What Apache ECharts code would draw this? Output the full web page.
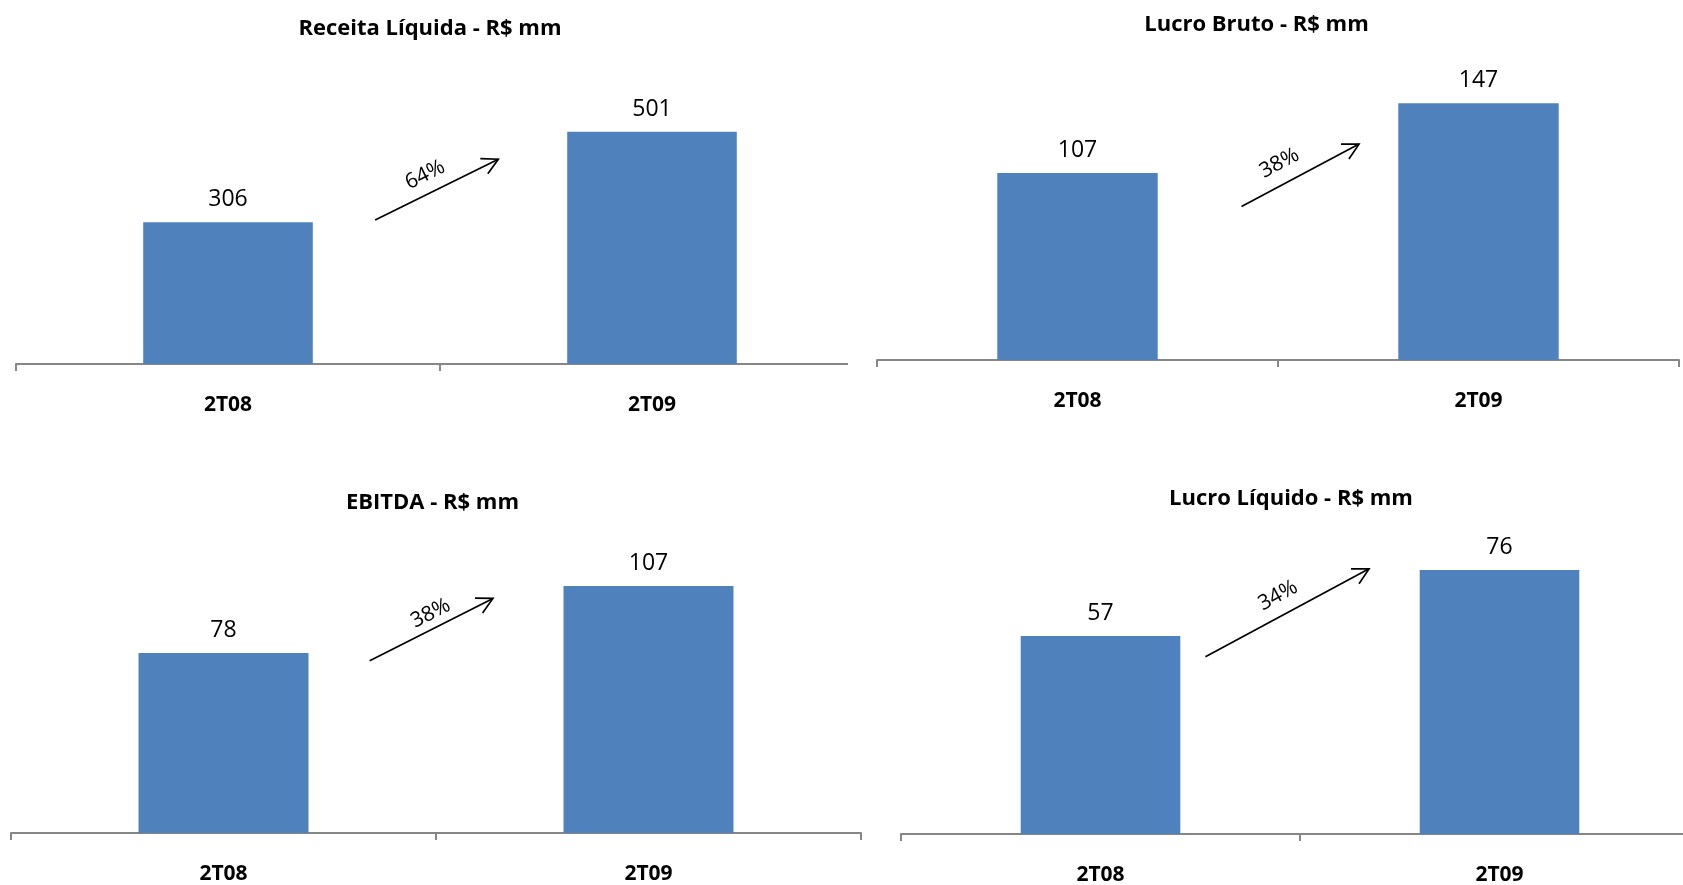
<!DOCTYPE html>
<html>
<head>
<meta charset="utf-8">
<script src="https://cdn.jsdelivr.net/npm/echarts@6/dist/echarts.min.js"></script>
<style>
  html, body { margin: 0; padding: 0; background: #fff; width: 1683px; height: 885px; overflow: hidden; }
  .panel { position: absolute; overflow: hidden; }
</style>
</head>
<body>
<div id="p0" class="panel" style="left:0;top:0;width:848px;height:442px"></div>
<div id="p1" class="panel" style="left:848px;top:0;width:835px;height:442px"></div>
<div id="p2" class="panel" style="left:0;top:442px;width:870px;height:443px"></div>
<div id="p3" class="panel" style="left:870px;top:442px;width:813px;height:443px"></div>
<script>
// Quarterly results, R$ millions
const categories = ['2T08', '2T09'];
const receitaLiquida = [306, 501];
const lucroBruto = [107, 147];
const ebitda = [78, 107];
const lucroLiquido = [57, 76];
const titles = ['Receita Líquida - R$ mm', 'Lucro Bruto - R$ mm', 'EBITDA - R$ mm', 'Lucro Líquido - R$ mm'];
const growthLabels = ['64%', '38%', '38%', '34%'];

const FONT = "'Open Sans', 'Liberation Sans', sans-serif";
const BAR_COLOR = '#4F81BD';
const AXIS_COLOR = '#868686';

// Panel layout. Arrow anchors are in each panel's data space:
// x runs 0–2 across both categories, y in R$ mm.
const panels = [
  { el: 'p0', title: titles[0], values: receitaLiquida, growth: growthLabels[0],
    grid: { left: 16, top: 86, width: 848, height: 278 }, yMax: 600,
    titlePos: [430, 29],
    arrow: { from: [0.847, 310.8], to: [1.1375, 442], label: [0.965, 408] } },
  { el: 'p1', title: titles[1], values: lucroBruto, growth: growthLabels[1],
    grid: { left: 29, top: 98, width: 802, height: 262 }, yMax: 150,
    titlePos: [408.5, 25],
    arrow: { from: [0.909, 87.9], to: [1.202, 123.6], label: [1.0035, 112.7] } },
  { el: 'p2', title: titles[2], values: ebitda, growth: growthLabels[2],
    grid: { left: 11, top: 137, width: 850, height: 254 }, yMax: 110,
    titlePos: [432.5, 60.5],
    arrow: { from: [0.844, 74.6], to: [1.134, 101.6], label: [0.9875, 95.1] } },
  { el: 'p3', title: titles[3], values: lucroLiquido, growth: growthLabels[3],
    grid: { left: 31, top: 114, width: 798, height: 278 }, yMax: 80,
    titlePos: [421, 57],
    arrow: { from: [0.763, 51.0], to: [1.173, 76.3], label: [0.945, 68.6] } }
];

function arrowRenderer(labelText) {
  return function (params, api) {
    const a = api.coord([api.value(0), api.value(1)]);
    const b = api.coord([api.value(2), api.value(3)]);
    const t = api.coord([api.value(4), api.value(5)]);
    const ang = Math.atan2(b[1] - a[1], b[0] - a[0]);
    const len = 18, half = 28 * Math.PI / 180;
    const w1 = [b[0] - len * Math.cos(ang - half), b[1] - len * Math.sin(ang - half)];
    const w2 = [b[0] - len * Math.cos(ang + half), b[1] - len * Math.sin(ang + half)];
    const stroke = { stroke: '#000', lineWidth: 1.7, fill: null };
    return {
      type: 'group',
      children: [
        { type: 'line', shape: { x1: a[0], y1: a[1], x2: b[0], y2: b[1] }, style: stroke },
        { type: 'polyline', shape: { points: [w1, b, w2] }, style: stroke },
        { type: 'text', x: t[0], y: t[1], rotation: -ang,
          style: { text: labelText, fontFamily: FONT, fontSize: 21, fill: '#000',
                   align: 'center', verticalAlign: 'middle' } }
      ]
    };
  };
}

panels.forEach(function (p) {
  const chart = echarts.init(document.getElementById(p.el), null, { renderer: 'canvas' });
  chart.setOption({
    animation: false,
    backgroundColor: '#fff',
    textStyle: { fontFamily: FONT },
    grid: Object.assign({ containLabel: false, outerBoundsMode: 'none' }, p.grid),
    xAxis: [
      {
        type: 'category',
        data: categories,
        axisLine: { show: true, lineStyle: { color: AXIS_COLOR, width: 2 } },
        axisTick: { show: true, length: 7, lineStyle: { color: AXIS_COLOR, width: 2 } },
        axisLabel: { margin: 31, fontSize: 21, fontWeight: 'bold', color: '#000', fontFamily: FONT },
        splitLine: { show: false }
      },
      { type: 'value', min: 0, max: 2, show: false }
    ],
    yAxis: { type: 'value', min: 0, max: p.yMax, show: false, splitLine: { show: false } },
    graphic: [{
      type: 'text', x: p.titlePos[0], y: p.titlePos[1],
      style: { text: p.title, fontFamily: FONT, fontSize: 22, fontWeight: 'bold', fill: '#000',
               align: 'center', verticalAlign: 'middle' }
    }],
    series: [
      {
        type: 'bar',
        data: p.values,
        barCategoryGap: '60%',
        itemStyle: { color: BAR_COLOR },
        label: { show: true, position: 'top', distance: 11, fontSize: 23, color: '#000', fontFamily: FONT }
      },
      {
        type: 'custom',
        xAxisIndex: 1,
        yAxisIndex: 0,
        data: [[p.arrow.from[0], p.arrow.from[1], p.arrow.to[0], p.arrow.to[1], p.arrow.label[0], p.arrow.label[1]]],
        encode: { x: [0, 2, 4], y: [1, 3, 5] },
        renderItem: arrowRenderer(p.growth)
      }
    ]
  });
});
</script>
</body>
</html>
